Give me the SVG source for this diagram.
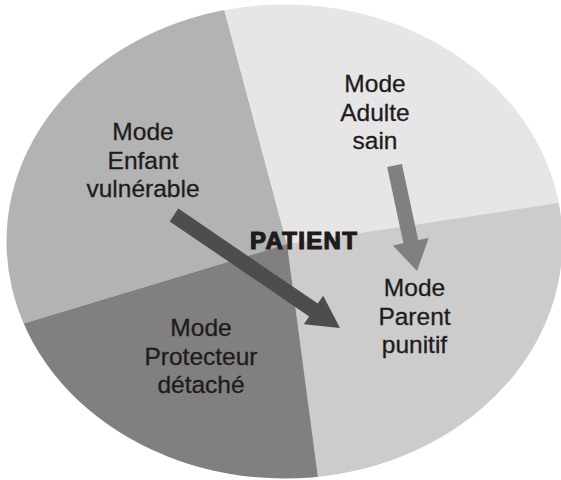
<svg xmlns="http://www.w3.org/2000/svg" width="561" height="480" viewBox="0 0 561 480">
  <style>
    .lbl { font-family: "Liberation Sans", Arial, sans-serif; font-size: 24.5px; fill: #1f1b1c; stroke: #1f1b1c; stroke-width: 0.3; text-anchor: middle; }
    .center { font-family: "Liberation Sans", Arial, sans-serif; font-size: 24px; font-weight: bold; fill: #1f1b1c; stroke: #1f1b1c; stroke-width: 1.2; text-anchor: middle; letter-spacing: 1.3px; }
  </style>
  <defs>
    <clipPath id="oval">
      <ellipse cx="284.5" cy="241.5" rx="278" ry="237"/>
    </clipPath>
  </defs>
  <rect width="561" height="480" fill="#ffffff"/>
  <g id="slices" clip-path="url(#oval)">
    <g id="enfant-slice"><polygon points="287,244 219,-10 -10,-10 -10,333.6" fill="#b3b3b3"/></g>
    <g id="adulte-slice"><polygon points="287,244 219,-10 570,-10 570,201.2" fill="#e6e6e6"/></g>
    <g id="parent-slice"><polygon points="287,244 570,201.2 570,490 319.7,490" fill="#cccccc"/></g>
    <g id="protecteur-slice"><polygon points="287,244 319.7,490 -10,490 -10,333.6" fill="#808080"/></g>
  </g>
  <g id="connectors">
    <polygon id="arrow-enfant-parent" points="178.3,208.6 317.8,303.6 323.2,295.8 340,328 303.8,324.2 309.2,316.4 169.7,221.4" fill="#4d4d4d"/>
    <polygon id="arrow-adulte-parent" points="401.9,163.9 418.2,240.1 428.7,237.9 417,271 392.9,245.5 403.4,243.3 387.1,167.1" fill="#808080"/>
  </g>
  <g id="node-enfant">
    <text class="lbl" x="143" y="140">Mode</text>
    <text class="lbl" x="143" y="168.5">Enfant</text>
    <text class="lbl" x="143" y="197">vulnérable</text>
  </g>
  <g id="node-adulte">
    <text class="lbl" x="375" y="92">Mode</text>
    <text class="lbl" x="375" y="120.5">Adulte</text>
    <text class="lbl" x="375" y="149">sain</text>
  </g>
  <g id="node-parent">
    <text class="lbl" x="414.5" y="296">Mode</text>
    <text class="lbl" x="414.5" y="324.5">Parent</text>
    <text class="lbl" x="414.5" y="353">punitif</text>
  </g>
  <g id="node-protecteur">
    <text class="lbl" x="201" y="336">Mode</text>
    <text class="lbl" x="201" y="364.5">Protecteur</text>
    <text class="lbl" x="201" y="393">détaché</text>
  </g>
  <g id="node-patient">
    <text class="center" x="304" y="249">PATIENT</text>
  </g>
</svg>
